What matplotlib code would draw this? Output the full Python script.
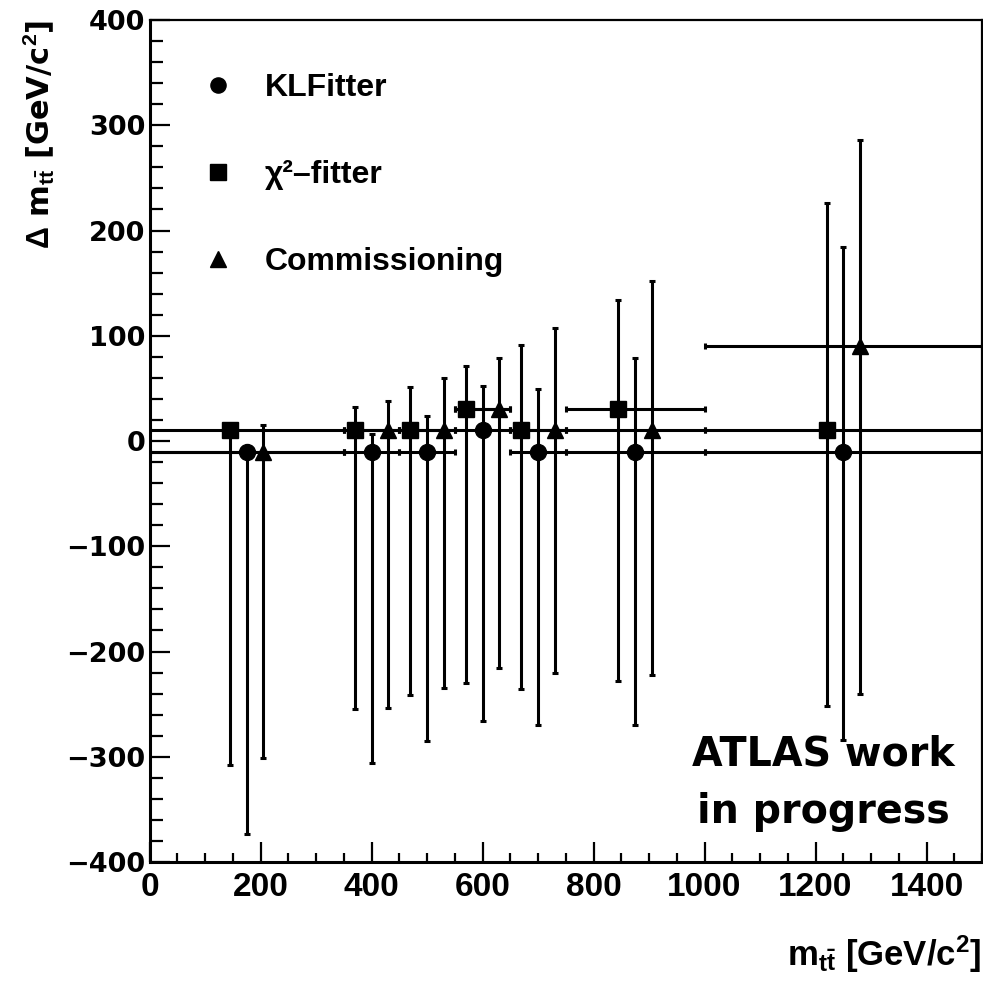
import matplotlib
matplotlib.use('Agg')
import matplotlib.pyplot as plt
from matplotlib.ticker import MultipleLocator
from matplotlib.lines import Line2D
import numpy as np

plt.rcParams['mathtext.fontset'] = 'custom'
plt.rcParams['mathtext.rm'] = 'Liberation Sans:bold'
plt.rcParams['mathtext.it'] = 'Liberation Sans:bold'
plt.rcParams['mathtext.bf'] = 'Liberation Sans:bold'
plt.rcParams['mathtext.sf'] = 'Liberation Sans:bold'

# ---- data ----
bin_lo = [0, 350, 450, 550, 650, 750, 1000]
bin_hi = [350, 450, 550, 650, 750, 1000, 1500]

klf_x = [175, 400, 500, 600, 700, 875, 1250]
klf_y = [-10, -10, -10, 10, -10, -10, -10]
klf_up = [-10, 7, 24, 52, 49, 79, 184]
klf_lo = [-373, -306, -285, -266, -270, -270, -284]

chi_x = [145, 370, 470, 570, 670, 845, 1220]
chi_y = [10, 10, 10, 30, 10, 30, 10]
chi_up = [10, 32, 51, 71, 91, 134, 226]
chi_lo = [-308, -255, -241, -230, -236, -228, -252]

com_x = [205, 430, 530, 630, 730, 905, 1280]
com_y = [-10, 10, 10, 30, 10, 10, 90]
com_up = [15, 38, 60, 79, 107, 152, 286]
com_lo = [-301, -254, -235, -216, -220, -222, -240]

labels = ['KLFitter', 'χ²–fitter', 'Commissioning']
x_ticks = [0, 200, 400, 600, 800, 1000, 1200, 1400]
y_ticks = [-400, -300, -200, -100, 0, 100, 200, 300, 400]

fig = plt.figure(figsize=(9.83, 9.82), dpi=100)
ax = fig.add_axes([0.1521, 0.1222, 0.8469, 0.8574])

series = [
    (klf_x, klf_y, klf_up, klf_lo, 'o', 11.5),
    (chi_x, chi_y, chi_up, chi_lo, 's', 12),
    (com_x, com_y, com_up, com_lo, '^', 12),
]
lo = np.array(bin_lo)
hi = np.array(bin_hi)
handles = []
for (xs, ys, up, dn, mk, ms), lab in zip(series, labels):
    xs = np.array(xs); ys = np.array(ys)
    up = np.array(up); dn = np.array(dn)
    ax.errorbar(xs, ys, xerr=[xs - lo, hi - xs], yerr=[ys - dn, up - ys],
                fmt=mk, ms=ms, color='black', ecolor='black', elinewidth=2.2,
                capsize=2.5, capthick=2.2, zorder=3)
    handles.append(Line2D([], [], linestyle='none', marker=mk, ms=ms * 0.95,
                          color='black', label=lab))

ax.set_xlim(0, 1500)
ax.set_ylim(-400, 400)
ax.set_xticks(x_ticks)
ax.set_yticks(y_ticks)
ax.xaxis.set_minor_locator(MultipleLocator(50))
ax.yaxis.set_minor_locator(MultipleLocator(20))

ax.tick_params(axis='both', which='both', direction='in', top=False, right=False,
               width=1.6, color='black')
ax.tick_params(axis='y', which='major', length=14.5, pad=3)
ax.tick_params(axis='y', which='minor', length=9)
ax.tick_params(axis='x', which='major', length=14.5, pad=7)
ax.tick_params(axis='x', which='minor', length=6.5)

ax.set_yticklabels([str(v).replace('-', '\u2212') for v in y_ticks],
                   fontfamily='DejaVu Sans', fontweight='bold', fontsize=19.5)
ax.set_xticklabels([str(v) for v in x_ticks],
                   fontfamily=['Liberation Sans Narrow', 'Liberation Sans'],
                   fontweight='bold', fontsize=24)

for s in ax.spines.values():
    s.set_linewidth(1.6)
ax.spines['left'].set_linewidth(2.2)
ax.spines['bottom'].set_linewidth(2.2)

ax.set_xlabel(r'm$_{t\bar{t}}$ [GeV/c$^{2}$]', fontfamily='Liberation Sans',
              fontweight='bold', fontsize=25, ha='right', va='top')
ax.xaxis.set_label_coords(1.0, -0.085)
ax.set_ylabel(r'$\Delta$ m$_{t\bar{t}}$ [GeV/c$^{2}$]', fontfamily='DejaVu Sans',
              fontweight='bold', fontsize=22, ha='right', va='center')
ax.yaxis.set_label_coords(-0.133, 1.0)

leg = ax.legend(handles=handles, loc='upper left', bbox_to_anchor=(0.063, 0.937),
                frameon=False, prop={'family': 'Liberation Sans', 'weight': 'bold', 'size': 23},
                handlelength=1.0, handletextpad=0.97, labelspacing=1.78,
                borderpad=0, borderaxespad=0)

ax.text(0.810, 0.1152, 'ATLAS work', transform=ax.transAxes, ha='center',
        va='baseline', fontfamily='DejaVu Sans', fontweight='bold', fontsize=28.5)
ax.text(0.810, 0.0467, 'in progress', transform=ax.transAxes, ha='center',
        va='baseline', fontfamily='DejaVu Sans', fontweight='bold', fontsize=28.5)

fig.savefig('out.png', dpi=100, facecolor='white')
